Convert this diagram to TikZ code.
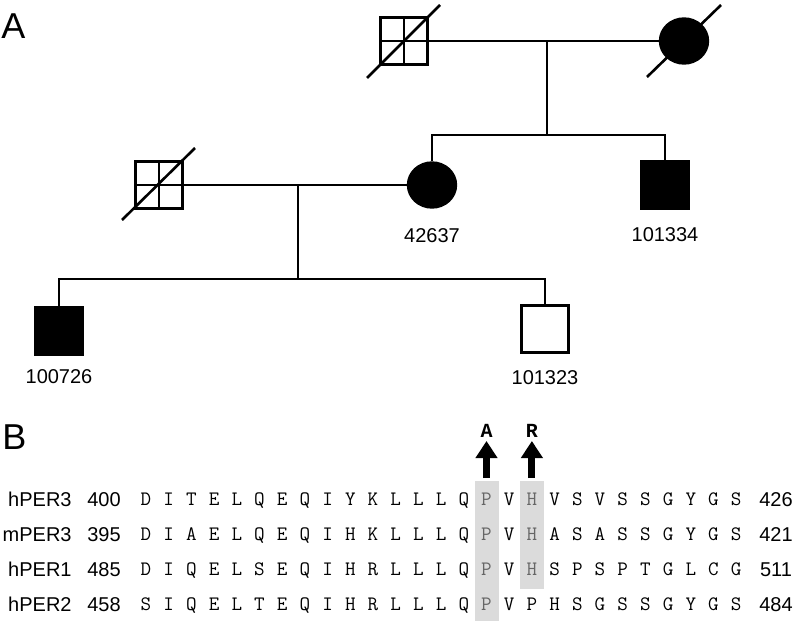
\documentclass[tikz,border=0pt]{standalone}
\usepackage{fontspec}
\setmainfont{Liberation Sans}
\newfontfamily\mutfont{Liberation Mono}
\usetikzlibrary{positioning,shapes.geometric,arrows.meta}
\tikzset{
  male/.style={rectangle,draw,line width=2.4pt,minimum width=47pt,minimum height=47pt,inner sep=0pt},
  female/.style={ellipse,draw,line width=2.4pt,minimum width=48pt,minimum height=45pt,inner sep=0pt},
  quarters/.style={path picture={
    \draw[line width=2pt] (path picture bounding box.north) -- (path picture bounding box.south)
      (path picture bounding box.west) -- (path picture bounding box.east);}},
  affected/.style={fill=black},
  idtext/.style={font=\fontsize{20}{24}\selectfont,inner sep=0pt,text height=14pt,text depth=0pt},
  panel/.style={font=\fontsize{36}{40}\selectfont,inner sep=0pt,anchor=west},
  res/.style={font=\ttfamily\fontsize{20.5}{24}\selectfont,inner sep=0pt,text height=12pt,text depth=0pt},
  mut/.style={font=\mutfont\bfseries\fontsize{20}{24}\selectfont,inner sep=0pt,text height=12pt,text depth=0pt},
  slash/.style={line width=2.6pt},
}
\begin{document}
\begin{tikzpicture}[x=1pt,y=-1pt,line width=2.8pt]
\useasboundingbox (0,0) rectangle (793,621);
%panel A
\node[panel] (A) at (0,26) {A};
%first generation
\node[male,quarters] (gf) at (404,41) {};
\node[female,affected] (gm) at (684,41) {};
\draw[slash] ([shift={(-37,37)}]gf.center) -- ([shift={(36,-36)}]gf.center);
\draw[slash] ([shift={(-37,36)}]gm.center) -- ([shift={(37,-36)}]gm.center);
\draw (gf.east) -- (gm.west);
\coordinate (m1) at (547,41);
\coordinate (s1) at (547,135);
%second generation
\node[male,quarters] (fa) at (159,185) {};
\node[female,affected] (mo) at (432,185) {};
\node[male,affected] (un) at (665,185) {};
\draw[slash] ([shift={(-37,35)}]fa.center) -- ([shift={(36,-37)}]fa.center);
\draw (m1) -- (s1);
\draw (mo.north) |- (s1) -| (un.north);
\draw (fa.east) -- (mo.west);
\coordinate (m2) at (298,185);
\coordinate (s2) at (298,279);
\node[idtext,below=18pt of mo] (mo-id) {42637};
\node[idtext,below=16pt of un] (un-id) {101334};
%third generation
\node[male,affected] (c1) at (59,331) {};
\node[male,line width=3.2pt] (c2) at (545,329) {};
\draw (m2) -- (s2);
\draw (c1.north) |- (s2) -| (c2.north);
\node[idtext,below=12pt of c1] (c1-id) {100726};
\node[idtext,below=15pt of c2] (c2-id) {101323};
%panel B
\node[panel] (B) at (1,437) {B};
\fill[black!14] (474.5,481) rectangle (498.5,621);
\fill[black!14] (520,481) rectangle (544,589);
\foreach \nm/\first/\seq/\last/\y [count=\k] in {
  hPER3/400/{D,I,T,E,L,Q,E,Q,I,Y,K,L,L,L,Q,P,V,H,V,S,V,S,S,G,Y,G,S}/426/499,
  mPER3/395/{D,I,A,E,L,Q,E,Q,I,H,K,L,L,L,Q,P,V,H,A,S,A,S,S,G,Y,G,S}/421/534,
  hPER1/485/{D,I,Q,E,L,S,E,Q,I,H,R,L,L,L,Q,P,V,H,S,P,S,P,T,G,L,C,G}/511/569,
  hPER2/458/{S,I,Q,E,L,T,E,Q,I,H,R,L,L,L,Q,P,V,P,H,S,G,S,S,G,Y,G,S}/484/604}{
  \node[idtext,anchor=east] (name\k) at (73,\y) {\nm};
  \node[idtext] (first\k) at (104,\y) {\first};
  \node[idtext] (last\k) at (776,\y) {\last};
  \foreach \r [count=\i from 0] in \seq {
    \ifnum\i=15 \def\rc{black!60}\else
      \ifnum\i=17 \ifnum\k<4 \def\rc{black!60}\else\def\rc{black}\fi
      \else\def\rc{black}\fi\fi
    \node[res,text=\rc] (r\k-\i) at (146+22.7*\i,\y) {\r};
  }
}
%mutations
\draw[line width=7pt,-{Triangle[width=21pt,length=17pt]}] (486.5,478) -- (486.5,441);
\draw[line width=7pt,-{Triangle[width=21pt,length=17pt]}] (531.9,478) -- (531.9,441);
\node[mut] (mutA) at (486.5,431) {A};
\node[mut] (mutR) at (531.9,431) {R};
\end{tikzpicture}
\end{document}
